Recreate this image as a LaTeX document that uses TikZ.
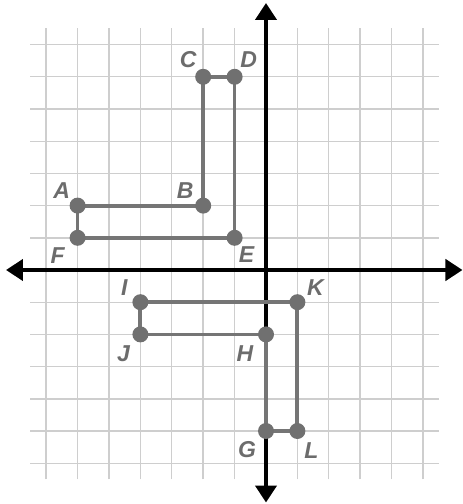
\documentclass[tikz,border=0pt]{standalone}
\usepackage{fontspec}
\setmainfont{Liberation Sans}
\usetikzlibrary{arrows.meta}
\definecolor{gridc}{RGB}{206,206,206}
\definecolor{shapec}{RGB}{117,117,117}
\definecolor{dotc}{RGB}{112,112,112}
\definecolor{labc}{RGB}{108,108,108}
\begin{document}
\begin{tikzpicture}[x=31.4pt,y=32.2pt,
  gridline/.style={draw=gridc,line width=1.4pt},
  axisline/.style={draw=black,line width=4.5pt,
    {Triangle[length=17pt,width=21pt]}-{Triangle[length=17pt,width=21pt]}},
  shapeline/.style={draw=shapec,line width=3.8pt,line join=round},
  ptdot/.style={circle,fill=dotc,inner sep=0pt,minimum size=16pt},
  ptlab/.style={text=labc,inner sep=0pt,font=\fontsize{23}{26}\selectfont\bfseries\itshape}]
\useasboundingbox (-266pt,-234pt) rectangle (197pt,270pt);
% grid
\foreach \x in {-7,...,5} \draw[gridline] (\x,-6.5) -- (\x,7.5);
\foreach \y in {-6,...,7} \draw[gridline] (-7.5,\y) -- (5.5,\y);
% axes
\coordinate (xl) at (-260pt,0);
\coordinate (xr) at (196.5pt,0);
\coordinate (yt) at (0,267pt);
\coordinate (yb) at (0,-232.5pt);
\draw[axisline] (xl) -- (xr);
\draw[axisline] (yb) -- (yt);
% points
\path (-6,2) coordinate (A) (-2,2) coordinate (B) (-2,6) coordinate (C)
      (-1,6) coordinate (D) (-1,1) coordinate (E) (-6,1) coordinate (F)
      (-4,-1) coordinate (I) (1,-1) coordinate (K) (1,-5) coordinate (L)
      (0,-5) coordinate (G) (0,-2) coordinate (H) (-4,-2) coordinate (J);
% polygons
\draw[shapeline] (A) -- (B) -- (C) -- (D) -- (E) -- (F) -- cycle;
\draw[shapeline] (I) -- (K) -- (L) -- (G) -- (H) -- (J) -- cycle;
% dots
\foreach \p in {A,B,C,D,E,F,I,K,L,G,H,J}
  \node[ptdot] (\p dot) at (\p) {};
% labels
\node[ptlab,xshift=-16pt,yshift=15pt] (Alab) at (A) {A};
\node[ptlab,xshift=-18pt,yshift=15pt] (Blab) at (B) {B};
\node[ptlab,xshift=-15pt,yshift=17pt] (Clab) at (C) {C};
\node[ptlab,xshift=14pt,yshift=17pt] (Dlab) at (D) {D};
\node[ptlab,xshift=12pt,yshift=-17pt] (Elab) at (E) {E};
\node[ptlab,xshift=-20pt,yshift=-18pt] (Flab) at (F) {F};
\node[ptlab,xshift=-16pt,yshift=15pt] (Ilab) at (I) {I};
\node[ptlab,xshift=-17pt,yshift=-19pt] (Jlab) at (J) {J};
\node[ptlab,xshift=18pt,yshift=15pt] (Klab) at (K) {K};
\node[ptlab,xshift=-21pt,yshift=-19pt] (Hlab) at (H) {H};
\node[ptlab,xshift=-19pt,yshift=-19pt] (Glab) at (G) {G};
\node[ptlab,xshift=14pt,yshift=-20pt] (Llab) at (L) {L};
\end{tikzpicture}
\end{document}
